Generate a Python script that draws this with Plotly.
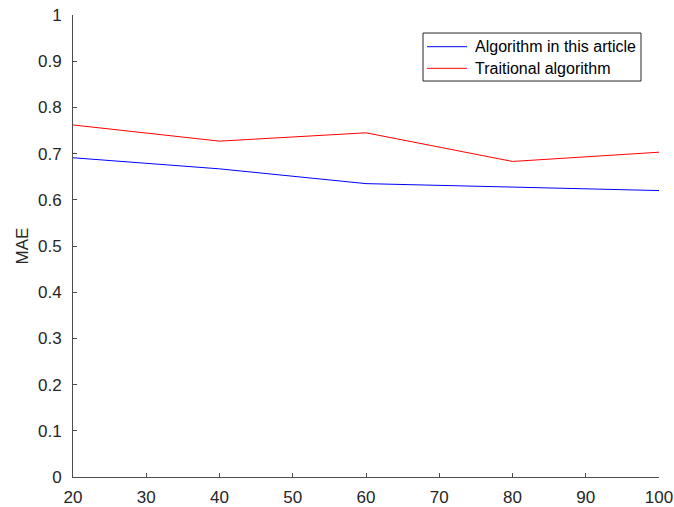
import plotly.graph_objects as go

x_values = [20, 40, 60, 80, 100]
mae_this_article = [0.691, 0.667, 0.635, 0.628, 0.620]
mae_traditional = [0.762, 0.727, 0.745, 0.683, 0.703]
series_names = ["Algorithm in this article", "Traitional algorithm"]
series_colors = ["rgb(0,0,255)", "rgb(255,0,0)"]
y_tick_vals = [0, 0.1, 0.2, 0.3, 0.4, 0.5, 0.6, 0.7, 0.8, 0.9, 1]
y_tick_text = ["0", "0.1", "0.2", "0.3", "0.4", "0.5", "0.6", "0.7", "0.8", "0.9", "1"]
x_tick_vals = [20, 30, 40, 50, 60, 70, 80, 90, 100]

axis_color = "#4d4d4d"
font_family = "Liberation Sans, Arial, sans-serif"

fig = go.Figure()
for name, color, vals in zip(series_names, series_colors,
                             [mae_this_article, mae_traditional]):
    fig.add_trace(go.Scatter(x=x_values, y=vals, mode="lines", name=name,
                             line=dict(color=color, width=1)))

# MATLAB-style compact legend box (paper coordinates)
legend_x0, legend_x1 = 0.5973, 0.9693
legend_y0, legend_y1 = 0.8571, 0.961
row_y = [0.9314, 0.8846]
sample_x0, sample_x1, text_x = 0.6041, 0.6724, 0.6826
shapes = [dict(type="rect", xref="paper", yref="paper",
               x0=legend_x0, x1=legend_x1, y0=legend_y0, y1=legend_y1,
               line=dict(color="#262626", width=1), fillcolor="white",
               layer="above")]
annotations = []
for name, color, ry in zip(series_names, series_colors, row_y):
    shapes.append(dict(type="line", xref="paper", yref="paper",
                       x0=sample_x0, x1=sample_x1, y0=ry, y1=ry,
                       line=dict(color=color, width=1), layer="above"))
    annotations.append(dict(xref="paper", yref="paper", x=text_x, y=ry,
                            xanchor="left", yanchor="middle", showarrow=False,
                            text=name, font=dict(size=16, color="#000000")))

fig.update_layout(
    width=674, height=507,
    margin=dict(l=73, r=15, t=15, b=30),
    paper_bgcolor="white", plot_bgcolor="white",
    font=dict(family=font_family, size=17, color="#262626"),
    showlegend=False,
    shapes=shapes,
    annotations=annotations,
    xaxis=dict(range=[20, 100], tickvals=x_tick_vals,
               showgrid=False, zeroline=False, automargin=False,
               showline=True, linecolor=axis_color, linewidth=1,
               ticks="inside", ticklen=4, tickcolor=axis_color,
               tickfont=dict(size=17, color="#262626"),
               ticklabelstandoff=5),
    yaxis=dict(range=[0, 1], tickvals=y_tick_vals, ticktext=y_tick_text,
               showgrid=False, zeroline=False, automargin=False,
               showline=True, linecolor=axis_color, linewidth=1,
               ticks="inside", ticklen=4, tickcolor=axis_color,
               tickfont=dict(size=17, color="#262626"),
               ticklabelstandoff=7,
               title=dict(text="MAE", font=dict(size=17, color="#262626"),
                          standoff=5)),
)

fig.write_html(
    "out.html",
    config={"displayModeBar": False},
    post_script="document.body.style.margin='0';document.body.style.overflow='hidden';",
)
